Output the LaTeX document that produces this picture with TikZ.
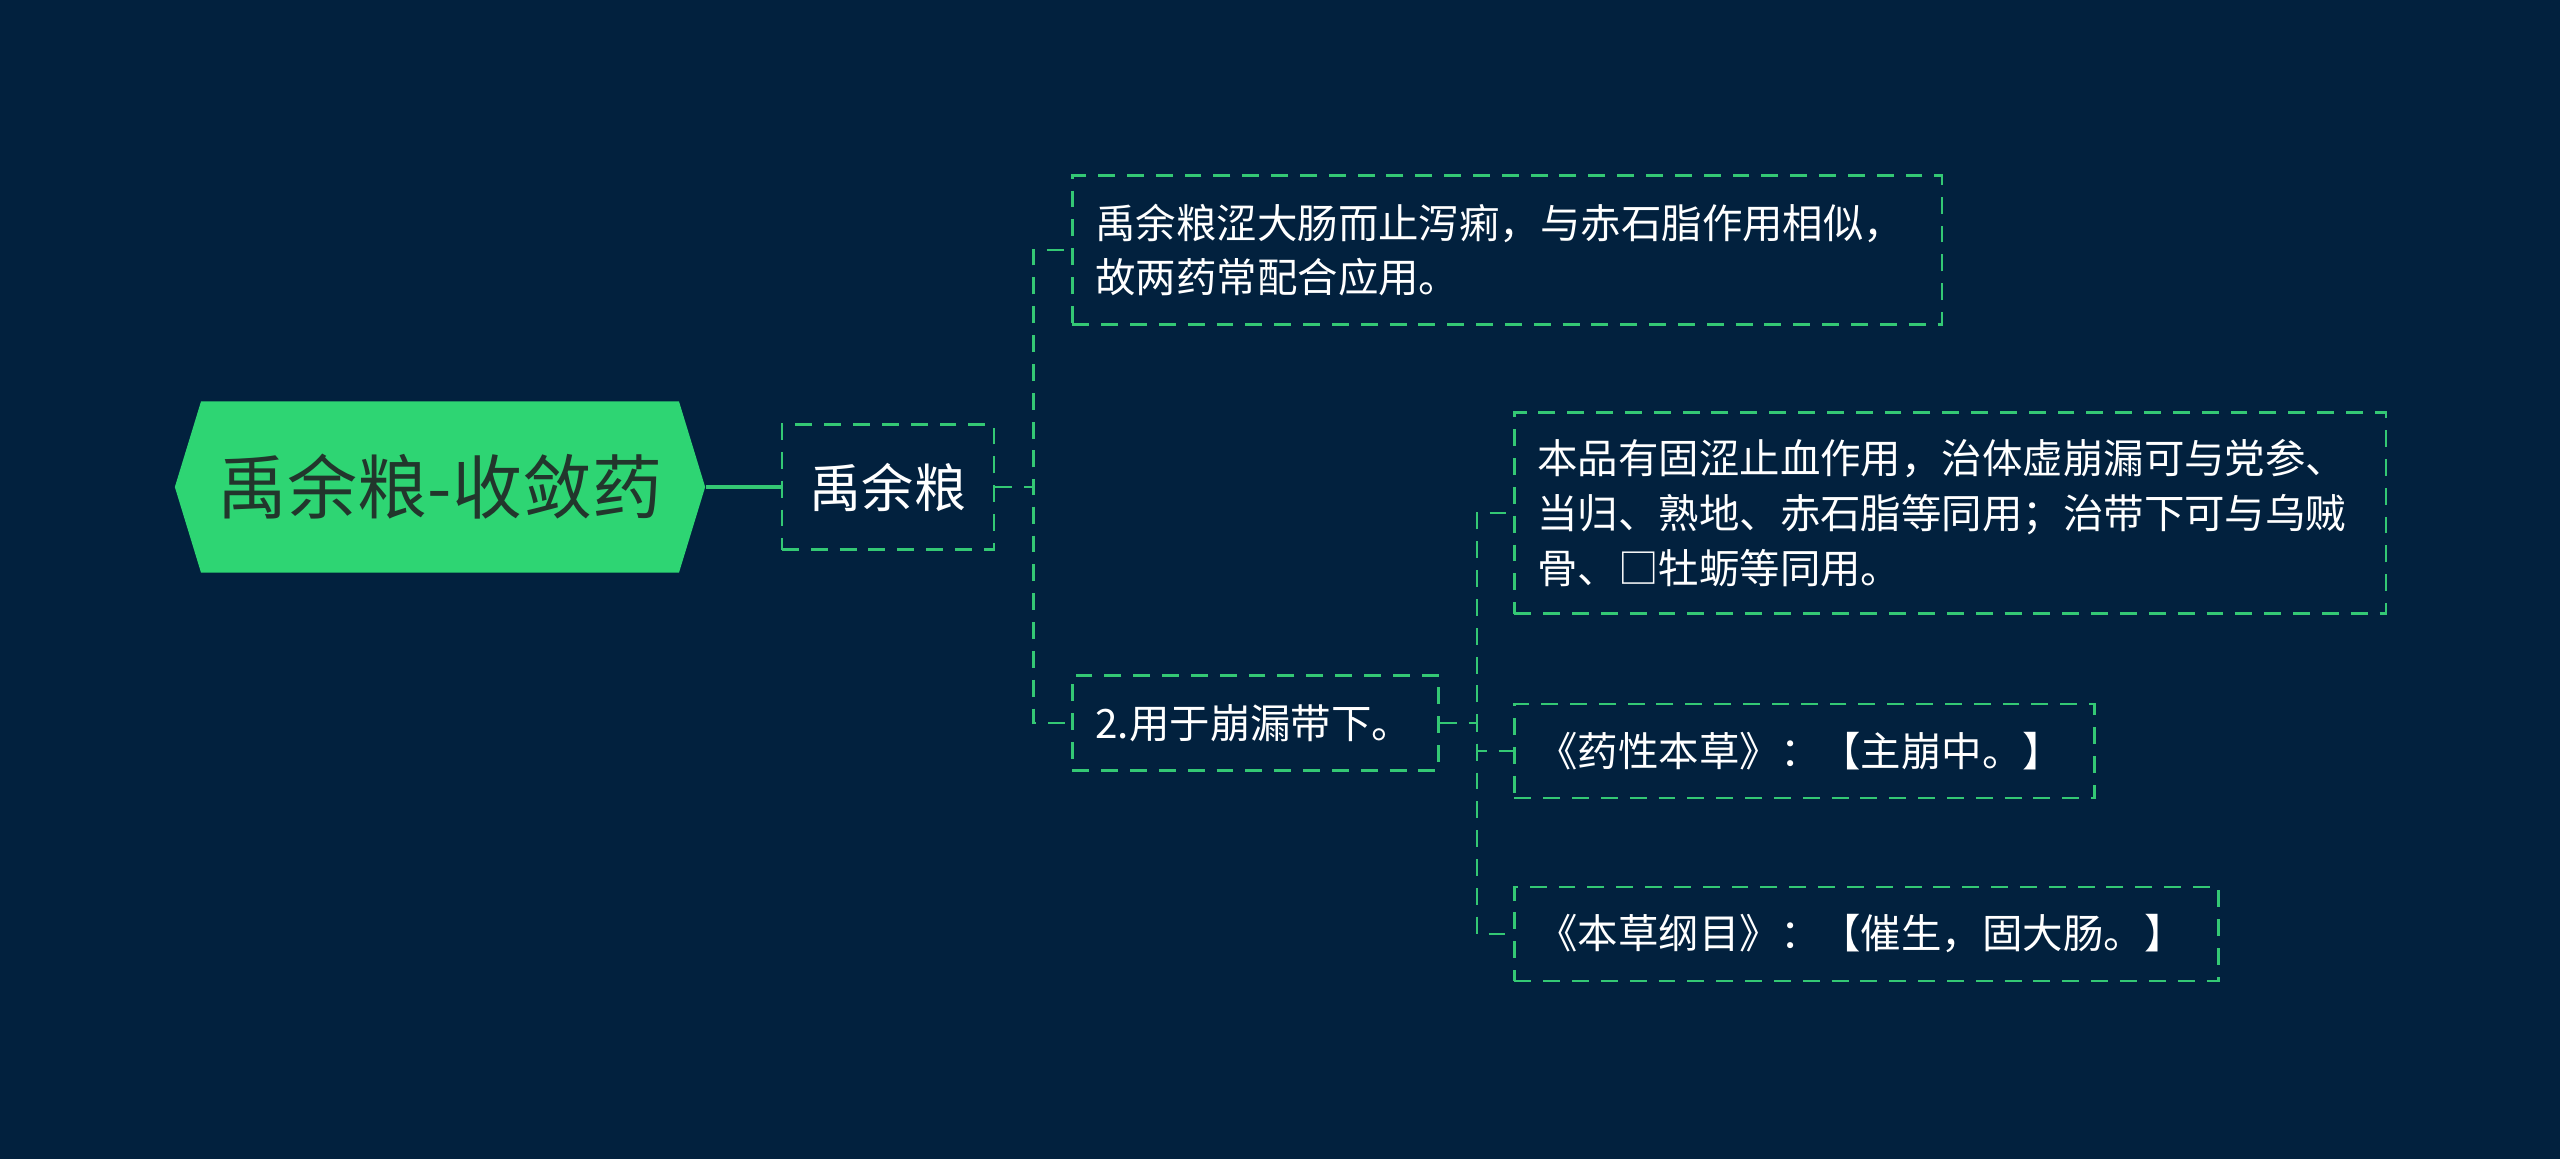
\documentclass[tikz,border=0pt]{standalone}
\usepackage{fontspec}
\setmainfont{Noto Sans CJK SC}
\usetikzlibrary{shapes.symbols}
\definecolor{bgNavy}{RGB}{2,33,62}
\definecolor{leafGreen}{RGB}{52,200,116}
\definecolor{rootGreen}{RGB}{46,213,115}
\definecolor{rootInk}{RGB}{34,54,44}
\tikzset{
  dashbox/.style={draw=leafGreen,line width=0.8pt,dash pattern=on 4.8pt off 3.4pt,text=white,inner xsep=0.23cm,inner ysep=0pt},
  leaf/.style={dashbox,anchor=west,align=left,font=\fontsize{11.5}{15.6}\selectfont},
  link/.style={draw=leafGreen,line width=0.8pt,dash pattern=on 4.8pt off 3.4pt}
}

\begin{document}
\begin{tikzpicture}[x=0.01cm,y=-0.01cm]
\useasboundingbox (0,0) rectangle (2560,1159);
\fill[bgNavy] (0,0) rectangle (2560,1159);
% root and first level
\node[signal,signal to=west and east,signal pointer angle=146,fill=rootGreen,inner sep=0pt,minimum width=5.30cm,minimum height=1.71cm,text=rootInk,font=\fontsize{19.9}{24}\selectfont] (root) at (440,487) {禹余粮-收敛药};
\node[dashbox,minimum width=2.12cm,minimum height=1.25cm,font=\fontsize{14.8}{18}\selectfont] (yuliang) at (888,487) {禹余粮};
\draw[leafGreen,line width=1.1pt] (root.east) -- (yuliang.west);
% second level
\node[leaf,text width=8.23cm,minimum height=1.49cm] (sechang) at (1071,250) {禹余粮涩大肠而止泻痢，与赤石脂作用相似，\\故两药常配合应用。};
\node[leaf,text width=3.20cm,minimum height=0.95cm] (benglou) at (1071,723) {2.用于崩漏带下。};
\draw[link] (yuliang.east) -- ++(38,0) |- (sechang.west);
\draw[link] (yuliang.east) -- ++(38,0) |- (benglou.west);
% third level
\node[leaf,text width=8.25cm,minimum height=2.01cm] (zhixue) at (1513,513) {本品有固涩止血作用，治体虚崩漏可与党参、\\当归、熟地、赤石脂等同用；治带下可与乌贼\\骨、□牡蛎等同用。};
\node[leaf,text width=5.34cm,minimum height=0.94cm] (yaoxing) at (1513,751) {《药性本草》：【主崩中。】};
\node[leaf,text width=6.58cm,minimum height=0.94cm] (gangmu) at (1513,934) {《本草纲目》：【催生，固大肠。】};
\foreach \leafname in {zhixue,yaoxing,gangmu}
  \draw[link] (benglou.east) -- ++(37,0) |- (\leafname.west);
\end{tikzpicture}
\end{document}
